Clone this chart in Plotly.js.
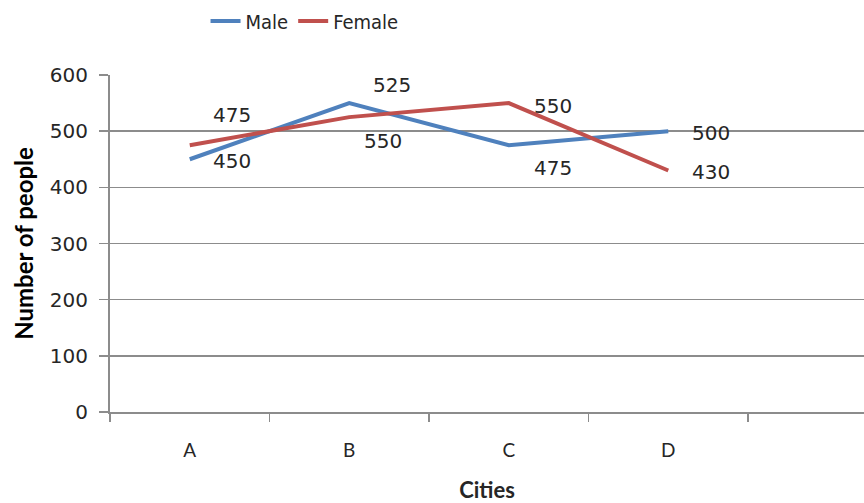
<!DOCTYPE html>
<html>
<head>
<meta charset="utf-8">
<script src="https://cdn.plot.ly/plotly-3.0.1.min.js"></script>
<style>html,body{margin:0;padding:0;background:#fff;}#chart{width:864px;height:503px;}</style>
</head>
<body>
<div id="chart"></div>
<script>
const cities = ["A", "B", "C", "D"];
const male = [450, 550, 475, 500];
const female = [475, 525, 550, 430];
const yTicks = [0, 100, 200, 300, 400, 500, 600];

// pixel offsets of the value labels from their points
const maleLabelShift = [[42, -2], [34, -38], [44, -23], [43, -2]];
const femaleLabelShift = [[42, 30], [43, 32], [44, -3], [43, -2]];

const blue = "#4F81BD";
const red = "#C0504D";
const numFont = {family: "DejaVu Sans, Verdana, sans-serif", size: 20, color: "#262626"};

const traces = [
  {x: cities, y: male, name: "Male", type: "scatter", mode: "lines",
   line: {color: blue, width: 4}},
  {x: cities, y: female, name: "Female", type: "scatter", mode: "lines",
   line: {color: red, width: 4}}
];

const annotations = [];
cities.forEach((c, i) => {
  annotations.push({x: c, y: male[i], text: String(male[i]), showarrow: false,
    xshift: maleLabelShift[i][0], yshift: maleLabelShift[i][1], font: numFont});
  annotations.push({x: c, y: female[i], text: String(female[i]), showarrow: false,
    xshift: femaleLabelShift[i][0], yshift: femaleLabelShift[i][1], font: numFont});
});

const layout = {
  width: 864, height: 503,
  margin: {l: 110, r: 0, t: 75, b: 91, pad: 0},
  paper_bgcolor: "#fff", plot_bgcolor: "#fff",
  showlegend: true,
  legend: {orientation: "h", x: 0.258, xanchor: "center", y: 1.16, yanchor: "middle",
    font: {family: "DejaVu Sans Condensed, Liberation Sans Narrow, sans-serif", size: 20, color: "#262626"},
    itemwidth: 30, tracegroupgap: 0},
  xaxis: {
    type: "category", categoryarray: cities, range: [-0.5, 4.227],
    showgrid: false, zeroline: false,
    showline: true, linecolor: "#8c8c8c", linewidth: 2,
    ticks: "outside", tickson: "boundaries", ticklen: 8, tickwidth: 1.5, tickcolor: "#8c8c8c",
    tickfont: {family: "Lato, Carlito, sans-serif", size: 19, color: "#262626"},
    ticklabelstandoff: 20,
    title: {text: "<b>Cities</b>", font: {family: "Lato, sans-serif", size: 22, color: "#262626"}, standoff: 24}
  },
  yaxis: {
    range: [0, 600], tickvals: yTicks, ticktext: yTicks.map(String),
    showgrid: true, gridcolor: "#8c8c8c", gridwidth: 1.5,
    zeroline: false,
    showline: true, linecolor: "#8c8c8c", linewidth: 2,
    ticks: "outside", ticklen: 9, tickwidth: 1.5, tickcolor: "#8c8c8c",
    tickfont: {family: "DejaVu Sans, Verdana, sans-serif", size: 20, color: "#262626"},
    ticklabelstandoff: 7,
    title: {text: "<b>Number of people</b>", font: {family: "Lato, sans-serif", size: 24, color: "#000"}, standoff: 9}
  },
  annotations: annotations
};

Plotly.newPlot("chart", traces, layout, {displayModeBar: false, staticPlot: true});
</script>
</body>
</html>
